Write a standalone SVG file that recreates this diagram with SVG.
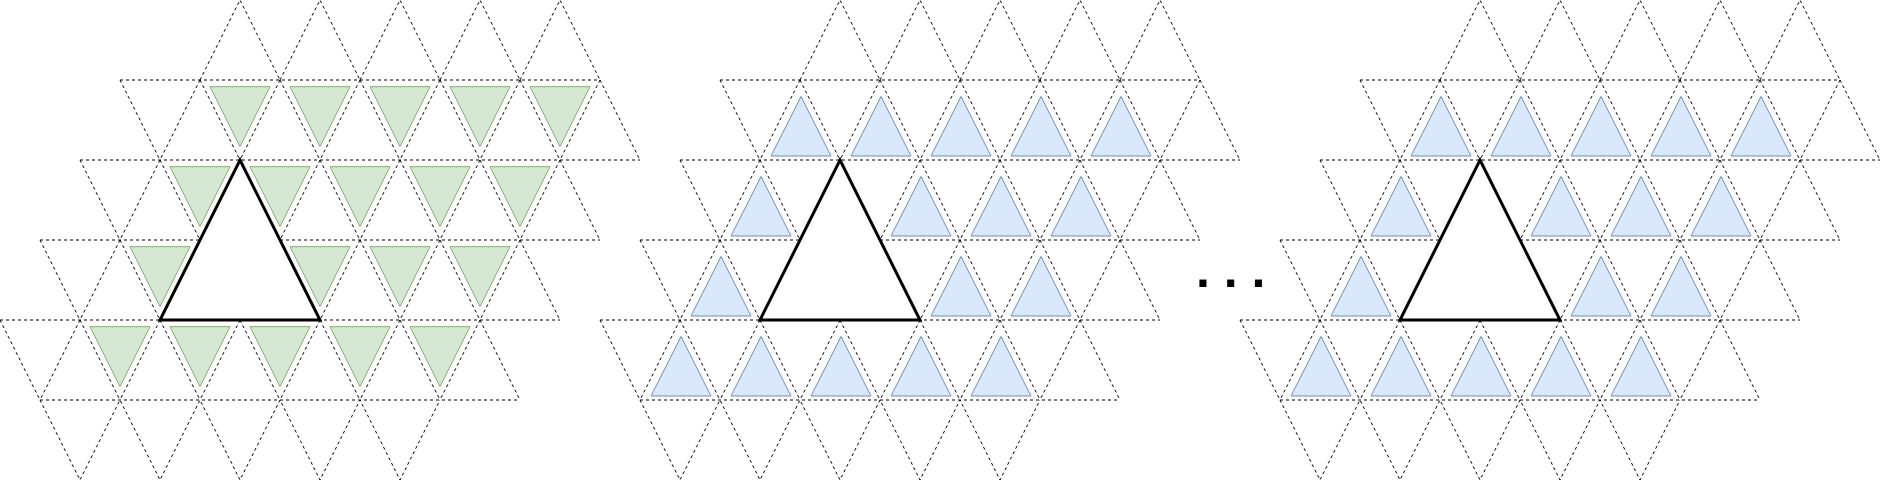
<svg xmlns="http://www.w3.org/2000/svg" xmlns:xlink="http://www.w3.org/1999/xlink" width="1884" height="483" viewBox="0 0 1884 483">
<style>
.grid{fill:none;stroke:#000;stroke-width:1;stroke-dasharray:3 3}
.green{fill:#d5e8d4;stroke:#82b366;stroke-width:1}
.blue{fill:#dae8fc;stroke:#6c8ebf;stroke-width:1}
.bold{fill:#fff;stroke:#000;stroke-width:3;stroke-linejoin:miter}
.dots{font-family:"Liberation Sans",Arial,sans-serif;font-size:50px;font-weight:bold;fill:#000}
</style>
<defs>
<path id="gridpath" class="grid" d="M120 80H600M80 160H640M40 240H600M0 320H560M40 400H520
M200 80L240 0L280 80M280 80L320 0L360 80M360 80L400 0L440 80M440 80L480 0L520 80M520 80L560 0L600 80
M120 80L160 160M200 80L240 160M280 80L320 160M360 80L400 160M440 80L480 160M520 80L560 160M600 80L640 160
M200 80L160 160M280 80L240 160M360 80L320 160M440 80L400 160M520 80L480 160M600 80L560 160
M80 160L120 240M160 160L200 240M240 160L280 240M320 160L360 240M400 160L440 240M480 160L520 240M560 160L600 240
M160 160L120 240M240 160L200 240M320 160L280 240M400 160L360 240M480 160L440 240M560 160L520 240
M40 240L80 320M120 240L160 320M200 240L240 320M280 240L320 320M360 240L400 320M440 240L480 320M520 240L560 320
M120 240L80 320M200 240L160 320M280 240L240 320M360 240L320 320M440 240L400 320M520 240L480 320
M0 320L40 400M80 320L120 400M160 320L200 400M240 320L280 400M320 320L360 400M400 320L440 400M480 320L520 400
M80 320L40 400M160 320L120 400M240 320L200 400M320 320L280 400M400 320L360 400M480 320L440 400
M40 400L80 480L120 400L160 480L200 400L240 480L280 400L320 480L360 400L400 480L440 400"/>
<polygon id="bigtri" class="bold" points="240,160 320,320 160,320"/>
<polygon id="gtri" class="green" points="-30,6.67 30,6.67 0,66.67"/>
<polygon id="btri" class="blue" points="1,16.5 31,76 -29,76"/>
<g id="bluegroup">
<use xlink:href="#btri" x="200" y="80"/><use xlink:href="#btri" x="280" y="80"/><use xlink:href="#btri" x="360" y="80"/><use xlink:href="#btri" x="440" y="80"/><use xlink:href="#btri" x="520" y="80"/>
<use xlink:href="#btri" x="160" y="160"/><use xlink:href="#btri" x="320" y="160"/><use xlink:href="#btri" x="400" y="160"/><use xlink:href="#btri" x="480" y="160"/>
<use xlink:href="#btri" x="120" y="240"/><use xlink:href="#btri" x="360" y="240"/><use xlink:href="#btri" x="440" y="240"/>
<use xlink:href="#btri" x="80" y="320"/><use xlink:href="#btri" x="160" y="320"/><use xlink:href="#btri" x="240" y="320"/><use xlink:href="#btri" x="320" y="320"/><use xlink:href="#btri" x="400" y="320"/>
</g>
</defs>
<g id="panel1">
<use xlink:href="#gridpath"/>
<g id="panel1-green">
<use xlink:href="#gtri" x="240" y="80"/><use xlink:href="#gtri" x="320" y="80"/><use xlink:href="#gtri" x="400" y="80"/><use xlink:href="#gtri" x="480" y="80"/><use xlink:href="#gtri" x="560" y="80"/>
<use xlink:href="#gtri" x="200" y="160"/><use xlink:href="#gtri" x="280" y="160"/><use xlink:href="#gtri" x="360" y="160"/><use xlink:href="#gtri" x="440" y="160"/><use xlink:href="#gtri" x="520" y="160"/>
<use xlink:href="#gtri" x="160" y="240"/><use xlink:href="#gtri" x="320" y="240"/><use xlink:href="#gtri" x="400" y="240"/><use xlink:href="#gtri" x="480" y="240"/>
<use xlink:href="#gtri" x="120" y="320"/><use xlink:href="#gtri" x="200" y="320"/><use xlink:href="#gtri" x="280" y="320"/><use xlink:href="#gtri" x="360" y="320"/><use xlink:href="#gtri" x="440" y="320"/>
</g>
<use id="panel1-big" xlink:href="#bigtri"/>
</g>
<g id="panel2" transform="translate(600,0)">
<use xlink:href="#gridpath"/>
<use id="panel2-blue" xlink:href="#bluegroup"/>
<use id="panel2-big" xlink:href="#bigtri"/>
</g>
<g id="ellipsis">
<text class="dots" x="1196" y="287">. . .</text>
</g>
<g id="panel3" transform="translate(1240,0)">
<use xlink:href="#gridpath"/>
<use id="panel3-blue" xlink:href="#bluegroup"/>
<use id="panel3-big" xlink:href="#bigtri"/>
</g>
</svg>
